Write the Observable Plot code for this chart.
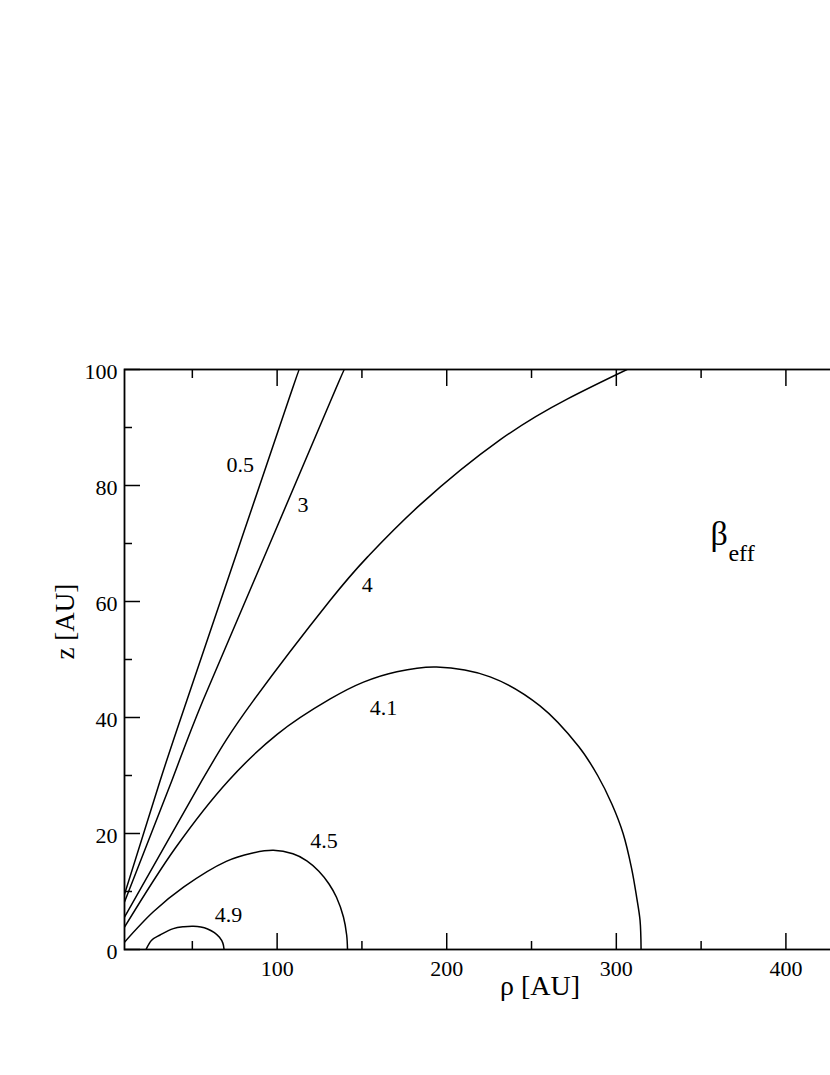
<!DOCTYPE html>
<html>
<head>
<meta charset="utf-8">
<script src="https://cdn.jsdelivr.net/npm/d3@7"></script>
<script src="https://cdn.jsdelivr.net/npm/@observablehq/plot@0.6"></script>
<style>
  html, body { margin: 0; padding: 0; background: #fff; overflow: hidden; width: 830px; height: 1075px; }
  #chart { width: 830px; height: 1075px; overflow: hidden; }
  #chart svg { display: block; max-width: none !important; width: 975px !important; height: 1060px !important; }
  #chart svg text { font-family: 'Liberation Serif', 'Times New Roman', serif; }
</style>
</head>
<body>
<div id="chart"></div>
<script>
// Contour levels of beta_eff, each traced as [rho (AU), z (AU)] points
const curve_0_5 = [[10, 9.5], [31, 29.1], [46.7, 42.9], [76.7, 68.8], [106.7, 94.7], [113, 100]];
const curve_3   = [[10, 8.2], [37.9, 29.1], [56.2, 42.9], [94, 68.8], [131.7, 94.7], [139.6, 100]];
const curve_4   = [[10, 5.6], [55.6, 29.1], [86, 42.9], [131.3, 60.2], [153.7, 67.8], [184.4, 76.7], [231.6, 87.9], [271, 94.9], [306.3, 100]];
const curve_4_1 = [[10, 3.85], [40, 17.5], [71.3, 29.1], [100, 37.1], [131.3, 43.2], [150.9, 46.1], [170.6, 47.9], [194, 48.7], [225.6, 47], [255, 42], [277.8, 35], [289, 30], [297.5, 25], [304, 20], [309, 14], [312, 9], [314, 5], [314.6, 0]];
const curve_4_5 = [[10, 1.26], [27, 6.5], [45, 10.8], [70, 15.2], [85, 16.6], [97.8, 17.1], [109.3, 16.5], [117.5, 15.3], [124.6, 13.5], [130.6, 11.3], [135, 9], [139.1, 5.6], [141, 2.5], [141.5, 0]];
const curve_4_9 = [[22.7, 0], [26, 1.6], [31, 2.5], [38.8, 3.6], [45, 3.92], [50.6, 4.0], [55, 3.88], [59, 3.54], [63, 2.91], [66, 2.1], [68, 1.1], [68.7, 0]];

// Curve labels
const labelText = ["0.5", "3", "4", "4.1", "4.5", "4.9"];
const labelRho  = [78.2, 115.3, 153.2, 162.7, 127.6, 71.3];
const labelZ    = [83.5, 76.6, 62.8, 41.6, 18.8, 6.0];

// Axis ticks
const xMajor = [100, 200, 300, 400, 500];
const xLabels = [100, 200, 300, 400];
const xMinor = [50, 150, 250, 350, 450];
const yMajor = [0, 20, 40, 60, 80, 100];
const yMinor = [10, 30, 50, 70, 90];

const openCurves = [curve_0_5, curve_3, curve_4];
const closedCurves = [curve_4_1, curve_4_5, curve_4_9];
const labels = labelText.map((t, i) => ({t, rho: labelRho[i], z: labelZ[i]}));

const font = "'Liberation Serif', 'Times New Roman', serif";
const tickStroke = {stroke: "black", strokeWidth: 1.5};

const marks = [];
for (const c of openCurves) {
  marks.push(Plot.line(c, {x: d => d[0], y: d => d[1], stroke: "black", strokeWidth: 1.5, curve: "natural", clip: true}));
}
for (const c of closedCurves) {
  marks.push(Plot.line(c, {x: d => d[0], y: d => d[1], stroke: "black", strokeWidth: 1.5, curve: "catmull-rom", clip: true}));
}
marks.push(
  Plot.text(labels, {x: "rho", y: "z", text: "t", fontSize: 22, fontFamily: font, fill: "black"}),
  // inward ticks, all four sides
  Plot.axisX({ticks: xMajor, anchor: "bottom", tickSize: -16, tickFormat: () => "", label: null, ...tickStroke}),
  Plot.axisX({ticks: xMinor, anchor: "bottom", tickSize: -8, tickFormat: () => "", label: null, ...tickStroke}),
  Plot.axisX({ticks: xMajor, anchor: "top", tickSize: -16, tickFormat: () => "", label: null, ...tickStroke}),
  Plot.axisX({ticks: xMinor, anchor: "top", tickSize: -8, tickFormat: () => "", label: null, ...tickStroke}),
  Plot.axisY({ticks: yMajor, anchor: "left", tickSize: -16, tickFormat: () => "", label: null, ...tickStroke}),
  Plot.axisY({ticks: yMinor, anchor: "left", tickSize: -8, tickFormat: () => "", label: null, ...tickStroke}),
  Plot.axisY({ticks: yMajor, anchor: "right", tickSize: -16, tickFormat: () => "", label: null, ...tickStroke}),
  Plot.axisY({ticks: yMinor, anchor: "right", tickSize: -8, tickFormat: () => "", label: null, ...tickStroke}),
  // tick labels
  Plot.axisX({ticks: xLabels, anchor: "bottom", tickSize: 0, tickPadding: 11, label: null, fontSize: 22, fontFamily: font, fill: "black"}),
  Plot.axisY({ticks: yMajor, anchor: "left", tickSize: 0, tickPadding: 7, dy: 2, label: null, fontSize: 22, fontFamily: font, fill: "black"}),
  Plot.frame({stroke: "black", strokeWidth: 1.8}),
  // axis titles
  Plot.text(["ρ [AU]"], {frameAnchor: "bottom", dy: 45, fontSize: 28, fontFamily: font, fill: "black"}),
  Plot.text(["z [AU]"], {frameAnchor: "left", dx: -59, rotate: -90, fontSize: 27, fontFamily: font, fill: "black"}),
  // beta_eff annotation
  Plot.text(["β"], {x: [355.5], y: [69.8], text: d => d, textAnchor: "start", lineAnchor: "bottom", fontSize: 34, fontFamily: font, fill: "black"}),
  Plot.text(["eff"], {x: [366.1], y: [66.9], text: d => d, textAnchor: "start", lineAnchor: "bottom", fontSize: 24, fontFamily: font, fill: "black"})
);

const chart = Plot.plot({
  width: 975,
  height: 1060,
  marginLeft: 124,
  marginRight: 20,
  marginTop: 369,
  marginBottom: 111,
  x: {domain: [10, 500]},
  y: {domain: [0, 100]},
  style: {fontFamily: font, fontSize: "22px", color: "black", background: "white", maxWidth: "none"},
  marks
});
document.getElementById("chart").appendChild(chart);
</script>
</body>
</html>
